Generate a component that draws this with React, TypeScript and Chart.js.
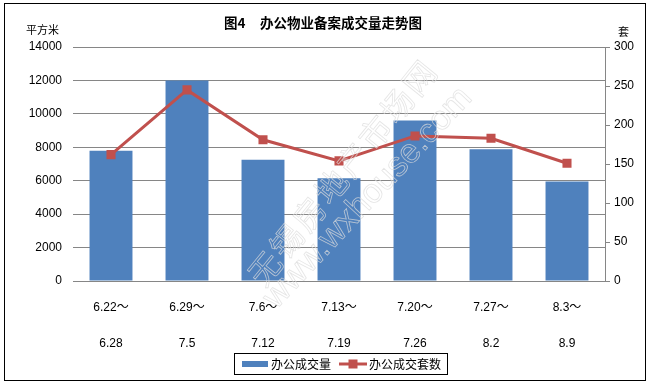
import React, { useEffect, useRef } from 'react';
import { Chart, registerables } from 'chart.js';

Chart.register(...registerables);

const categories: string[][] = [
  ['6.22～', '6.28'],
  ['6.29～', '7.5'],
  ['7.6～', '7.12'],
  ['7.13～', '7.19'],
  ['7.20～', '7.26'],
  ['7.27～', '8.2'],
  ['8.3～', '8.9'],
];
const areaValues = [7800, 12000, 7250, 6150, 9600, 7880, 5950];
const unitValues = [162, 245, 181, 154, 186, 183, 151];
const leftAxis = { min: 0, max: 14000, step: 2000 };
const rightAxis = { min: 0, max: 300, step: 50 };
const seriesNames = ['办公成交量', '办公成交套数'];
const titleParts = ['图4', '办公物业备案成交量走势图'];
const leftUnit = '平方米';
const rightUnit = '套';
const watermarkCn = '无锡房地产市场网';
const watermarkUrl = 'www.wxhouse.com';

const BLUE = '#4F81BD';
const RED = '#C0504D';
const GRID = '#868686';
const CJK = "'Noto Sans CJK SC', sans-serif";
const NUM = "'Liberation Sans', 'Noto Sans CJK SC', sans-serif";

const decorPlugin = {
  id: 'decor',
  beforeDraw(chart: any) {
    const ctx = chart.ctx;
    ctx.save();
    ctx.fillStyle = '#fff';
    ctx.fillRect(0, 0, chart.width, chart.height);
    ctx.restore();
  },
  afterDatasetsDraw(chart: any) {
    const ctx = chart.ctx;
    ctx.save();
    ctx.lineWidth = 0.8;
    ctx.strokeStyle = 'rgba(220,220,220,0.75)';
    ctx.textAlign = 'center';
    ctx.textBaseline = 'middle';
    ctx.save();
    ctx.translate(343, 172);
    ctx.rotate((-51 * Math.PI) / 180);
    ctx.font = `32px ${CJK}`;
    (ctx as any).letterSpacing = '3px';
    ctx.strokeText(watermarkCn, 0, 0);
    ctx.restore();
    ctx.save();
    ctx.translate(368, 198);
    ctx.rotate((-47 * Math.PI) / 180);
    ctx.font = `34px 'Liberation Sans', sans-serif`;
    ctx.strokeText(watermarkUrl, 0, 0);
    ctx.restore();
    ctx.restore();
  },
  afterDraw(chart: any) {
    const ctx = chart.ctx;
    ctx.save();
    ctx.strokeStyle = '#000';
    ctx.lineWidth = 1;
    ctx.strokeRect(4.5, 3.5, 641, 377);
    ctx.fillStyle = '#000';
    ctx.textBaseline = 'middle';
    ctx.textAlign = 'left';
    ctx.font = `bold 13.5px ${CJK}`;
    ctx.fillText(titleParts[0], 224, 23);
    ctx.fillText(titleParts[1], 260, 23);
    ctx.font = `11px ${CJK}`;
    ctx.fillText(leftUnit, 26, 30);
    ctx.fillText(rightUnit, 618, 32);
    ctx.strokeRect(234.5, 353.5, 213, 21);
    ctx.fillStyle = BLUE;
    ctx.fillRect(242, 361, 26, 6);
    ctx.strokeStyle = RED;
    ctx.lineWidth = 3;
    ctx.beginPath();
    ctx.moveTo(339, 364);
    ctx.lineTo(367, 364);
    ctx.stroke();
    ctx.fillStyle = RED;
    ctx.fillRect(348.5, 359.5, 9, 9);
    ctx.fillStyle = '#000';
    ctx.font = `12px ${CJK}`;
    ctx.fillText(seriesNames[0], 271, 364);
    ctx.fillText(seriesNames[1], 369, 364);
    ctx.restore();
  },
};

export default function App() {
  const ref = useRef<HTMLCanvasElement | null>(null);
  useEffect(() => {
    document.body.style.margin = '0';
    if (!ref.current) return;
    const chart = new Chart(ref.current, {
      type: 'bar',
      data: {
        labels: categories,
        datasets: [
          {
            type: 'line',
            label: seriesNames[1],
            data: unitValues,
            yAxisID: 'y1',
            borderColor: RED,
            backgroundColor: RED,
            borderWidth: 3,
            pointStyle: 'rect',
            pointRadius: 6.4,
            pointBorderWidth: 0,
            pointBackgroundColor: RED,
            tension: 0,
            order: 0,
          } as any,
          {
            type: 'bar',
            label: seriesNames[0],
            data: areaValues,
            yAxisID: 'y',
            backgroundColor: BLUE,
            borderWidth: 0,
            categoryPercentage: 1,
            barPercentage: 0.565,
            order: 1,
          },
        ],
      },
      options: {
        responsive: false,
        animation: false,
        layout: { padding: { top: 47, left: 0, right: 0, bottom: 0 } },
        plugins: {
          legend: { display: false },
          title: { display: false },
          tooltip: { enabled: false },
        },
        scales: {
          x: {
            grid: { display: false },
            border: { display: true, color: GRID, width: 1 },
            ticks: {
              autoSkip: false,
              maxRotation: 0,
              minRotation: 0,
              padding: 1,
              color: '#000',
              font: { family: NUM, size: 12, lineHeight: 3 },
            },
            afterFit(scale: any) {
              scale.height = 102;
            },
          },
          y: {
            position: 'left',
            min: leftAxis.min,
            max: leftAxis.max,
            ticks: {
              stepSize: leftAxis.step,
              padding: 11,
              color: '#000',
              font: { family: NUM, size: 12 },
              callback: (v: any) => String(v),
            },
            grid: { color: GRID, lineWidth: 1, drawTicks: false },
            border: { display: false },
            afterFit(scale: any) {
              scale.width = 73;
            },
          },
          y1: {
            position: 'right',
            min: rightAxis.min,
            max: rightAxis.max,
            ticks: {
              stepSize: rightAxis.step,
              padding: 4,
              color: '#000',
              font: { family: NUM, size: 12 },
              callback: (v: any) => String(v),
            },
            grid: { drawOnChartArea: false, drawTicks: true, tickLength: 5, color: GRID },
            border: { display: true, color: GRID, width: 1 },
            afterFit(scale: any) {
              scale.width = 46;
            },
          },
        },
      },
      plugins: [decorPlugin],
    });
    return () => chart.destroy();
  }, []);
  return (
    <div style={{ width: 651, height: 383, position: 'relative' }}>
      <canvas ref={ref} width={651} height={383} style={{ display: 'block' }} />
    </div>
  );
}
